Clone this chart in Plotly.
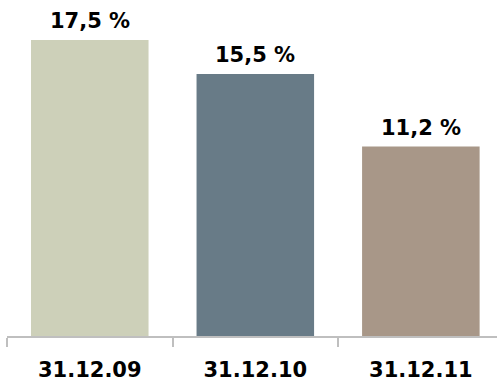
import plotly.graph_objects as go

categories = ["31.12.09", "31.12.10", "31.12.11"]
values = [17.5, 15.5, 11.2]
labels = ["17,5 %", "15,5 %", "11,2 %"]
colors = ["#CDD0B9", "#687B87", "#A89788"]

fig = go.Figure(go.Bar(x=categories, y=values, marker=dict(color=colors, line=dict(width=0)),
                       width=0.71, hoverinfo="skip"))

for c, v, t in zip(categories, values, labels):
    fig.add_annotation(x=c, y=v, text="<b>" + t + "</b>", showarrow=False, yanchor="bottom", yshift=5,
                       font=dict(family="DejaVu Sans", size=21, color="#000000"))

fig.update_layout(
    width=497, height=385,
    margin=dict(l=7, r=0, t=0, b=49),
    paper_bgcolor="white", plot_bgcolor="white",
    showlegend=False,
    xaxis=dict(range=[-0.5, 2.46], showline=True, linecolor="#BFBFBF", linewidth=2,
               ticks="outside", tickson="boundaries", ticklen=9, tickcolor="#BFBFBF", tickwidth=2,
               tickfont=dict(family="DejaVu Sans", size=21, color="#000000"),
               ticklabelstandoff=14,
               showgrid=False, zeroline=False, fixedrange=True, automargin=False),
    yaxis=dict(range=[0, 19.87], visible=False, showgrid=False, zeroline=False, fixedrange=True),
)
fig.update_xaxes(tickprefix="<b>", ticksuffix="</b>")
fig.write_html("out.html", config={"displayModeBar": False, "staticPlot": True},
               post_script="document.body.style.margin='0';document.body.style.overflow='hidden';")
